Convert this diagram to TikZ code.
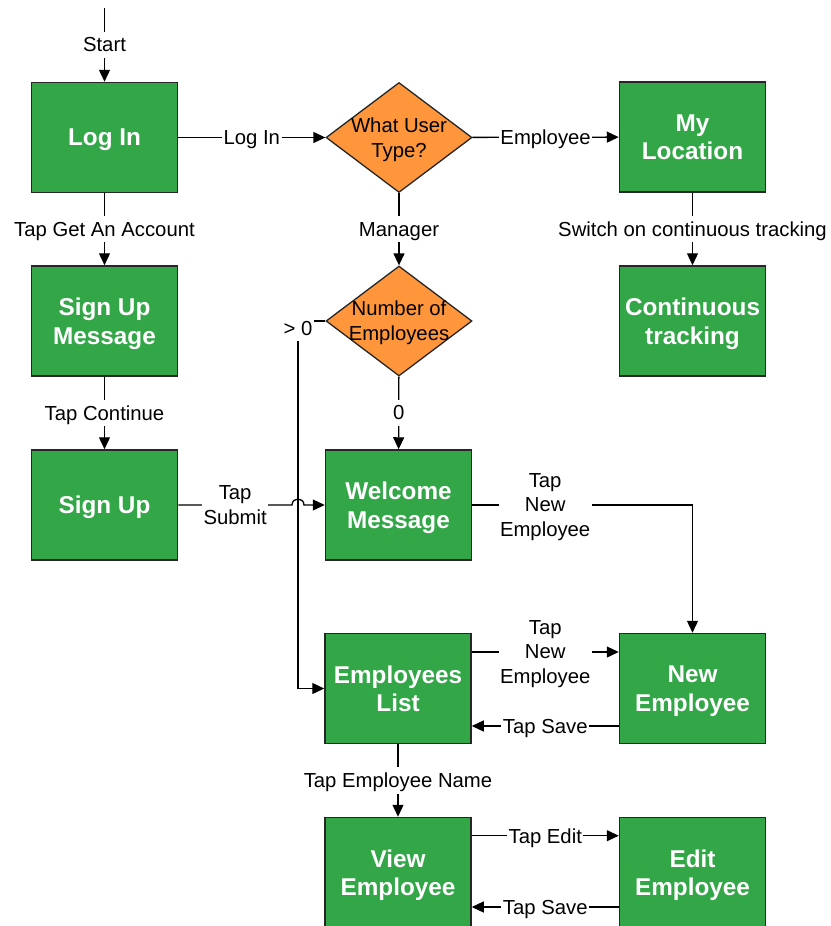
\documentclass[tikz,border=0pt]{standalone}
\usepackage{fontspec}
\setmainfont{Liberation Sans}
\usetikzlibrary{arrows.meta,shapes.geometric}
\definecolor{boxgreen}{RGB}{51,166,72}
\definecolor{decorange}{RGB}{255,150,60}
\tikzset{
 box/.style={draw=black!85, line width=1.5pt, fill=boxgreen, minimum width=146pt, minimum height=110pt, inner sep=0pt, text=white, font=\fontsize{24.3}{28.5}\selectfont\bfseries, align=center, text depth=0pt},
 dec/.style={diamond, draw=black!85, line width=1.3pt, fill=decorange, minimum width=146pt, minimum height=110pt, inner sep=0pt},
 dectext/.style={font=\fontsize{20.3}{25}\selectfont, align=center, inner sep=0pt, text depth=0pt},
 lbl/.style={fill=white, font=\fontsize{20.3}{24.5}\selectfont, align=center, inner xsep=1.5pt, inner ysep=6pt, text depth=0pt},
 conn/.style={line width=1.3pt, draw=black},
 arr/.style={conn, -{Triangle[length=12pt,width=11pt]}},
}
\begin{document}
\begin{tikzpicture}[x=1pt,y=-1pt]
\useasboundingbox (0,0) rectangle (830,926);
\clip (0,0) rectangle (830,926);
% nodes
\node[box] (login) at (104.5,137.5) {Log In};
\node[box] (signmsg) at (104.5,321) {Sign Up\\Message};
\node[box] (signup) at (104.5,505) {Sign Up};
\node[dec] (q1) at (399,137.5) {};
\node[dectext] (q1t) at (399,137.5) {What User\\Type?};
\node[dec] (q2) at (399,321) {};
\node[dectext] (q2t) at (399,321) {Number of\\Employees};
\node[box] (myloc) at (692.5,137) {My\\Location};
\node[box] (cont) at (692.5,321) {Continuous\\tracking};
\node[box] (welcome) at (398.5,505) {Welcome\\Message};
\node[box] (list) at (398,688.5) {Employees\\List};
\node[box] (newemp) at (692.5,688.5) {New\\Employee};
\node[box] (view) at (398,872.5) {View\\Employee};
\node[box] (edit) at (692.5,872.5) {Edit\\Employee};
% coordinates
\coordinate (start) at (104.5,8);
\coordinate (gtc) at (298,321);
\coordinate (hopL) at (292,505);
\coordinate (hopR) at (304,505);
\coordinate (wcorner) at (692.5,505);
% connectors
\draw[arr] (start) -- node[lbl]{Start} (login);
\draw[arr] (login) -- node[lbl]{Tap Get An Account} (signmsg);
\draw[arr] (signmsg) -- node[lbl]{Tap Continue} (signup);
\draw[arr] (login) -- node[lbl]{Log In} (q1);
\draw[arr] (q1) -- node[lbl]{Employee} (myloc);
\draw[arr] (q1) -- node[lbl]{Manager} (q2);
\draw[arr] (myloc) -- node[lbl]{Switch on continuous tracking} (cont);
\draw[arr] (q2) -- node[lbl]{0} (welcome);
\draw[arr] (q2.west) -- (gtc) node[lbl, yshift=-7pt]{> 0} |- (list.west);
\draw[arr] (signup.east) -- node[lbl, pos=0.5]{Tap\\Submit} (hopL) .. controls ([yshift=8pt]hopL) and ([yshift=8pt]hopR) .. (hopR) -- (welcome.west);
\draw[arr] (welcome.east) -- node[lbl, pos=0.331]{Tap\\New\\Employee} (wcorner) -- (newemp.north);
\draw[arr] ([yshift=36.5pt]list.east) -- node[lbl]{Tap\\New\\Employee} ([yshift=36.5pt]newemp.west);
\draw[arr] ([yshift=-37.5pt]newemp.west) -- node[lbl]{Tap Save} ([yshift=-37.5pt]list.east);
\draw[arr] (list) -- node[lbl]{Tap Employee Name} (view);
\draw[arr] ([yshift=36.8pt]view.east) -- node[lbl]{Tap Edit} ([yshift=36.8pt]edit.west);
\draw[arr] ([yshift=-34.5pt]edit.west) -- node[lbl]{Tap Save} ([yshift=-34.5pt]view.east);
\end{tikzpicture}
\end{document}
